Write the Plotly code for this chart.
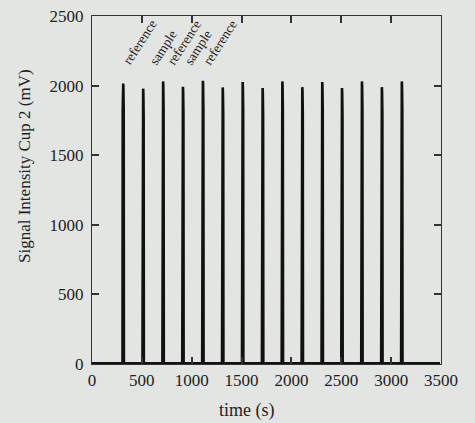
import plotly.graph_objects as go

# Peak data
peak_times = [313, 513, 713, 912, 1112, 1311, 1511, 1711, 1909, 2109, 2309, 2507, 2707, 2907, 3107]
peak_heights = [2015, 1978, 2030, 1992, 2035, 1987, 2025, 1982, 2030, 1989, 2025, 1982, 2030, 1989, 2030]
baseline = 5
t_start, t_end = 0, 3490

# Shape of one peak (offsets in s, fraction of peak height)
peak_dt = [-7, -5, -2, 0, 2, 5, 7]
peak_frac = [0.0, 0.9, 0.985, 1.0, 0.985, 0.9, 0.0]

label_texts = ["reference", "sample", "reference", "sample", "reference"]
label_times = [250, 520, 697, 870, 1057]
label_y = 2110

x_ticks = [0, 500, 1000, 1500, 2000, 2500, 3000, 3500]
y_ticks = [0, 500, 1000, 1500, 2000, 2500]

y_title = "Signal Intensity Cup 2 (mV)"
x_title = "time (s)"

# Build the trace from the peak table
xs = [t_start]
ys = [baseline]
for t, h in zip(peak_times, peak_heights):
    for dt, f in zip(peak_dt, peak_frac):
        xs.append(t + dt)
        ys.append(baseline + f * (h - baseline))
xs.append(t_end)
ys.append(baseline)

BG = "#e3e5e2"
fig = go.Figure()
fig.add_trace(go.Scatter(x=xs, y=ys, mode="lines",
                         line=dict(color="#111111", width=2.6),
                         hoverinfo="skip", showlegend=False))

font_family = "Liberation Serif, Times New Roman, serif"
for txt, t in zip(label_texts, label_times):
    fig.add_annotation(x=t, y=label_y, text=txt, showarrow=False,
                       textangle=-57, xanchor="left", yanchor="bottom",
                       font=dict(family=font_family, size=13.5, color="#222222"))

fig.add_annotation(xref="paper", yref="paper", x=0, y=0.569, text=y_title,
                   showarrow=False, textangle=-90, xanchor="center", yanchor="middle",
                   xshift=-67, font=dict(family=font_family, size=17, color="#222222"))
fig.add_annotation(xref="paper", yref="paper", x=0.5, y=0, text=x_title,
                   showarrow=False, xanchor="center", yanchor="middle",
                   xshift=-20, yshift=-46, font=dict(family=font_family, size=18, color="#222222"))

axis_common = dict(showline=True, linecolor="#333333", linewidth=1.2, mirror="ticks",
                   ticks="inside", ticklen=7, tickcolor="#333333", tickwidth=1.5,
                   showgrid=False, zeroline=False, automargin=False,
                   tickfont=dict(family=font_family, size=17, color="#222222"))

fig.update_layout(
    width=475, height=423,
    margin=dict(l=92, r=34, t=16, b=59),
    paper_bgcolor=BG, plot_bgcolor="rgba(0,0,0,0)",
    xaxis=dict(range=[0, 3500], tickvals=x_ticks, **axis_common),
    yaxis=dict(range=[0, 2500], tickvals=y_ticks, ticklabelstandoff=4, **axis_common),
)

fig.write_html("out.html", config={"displayModeBar": False},
               post_script="document.body.style.margin='0';document.body.style.background='%s';document.body.style.overflow='hidden';" % BG)
